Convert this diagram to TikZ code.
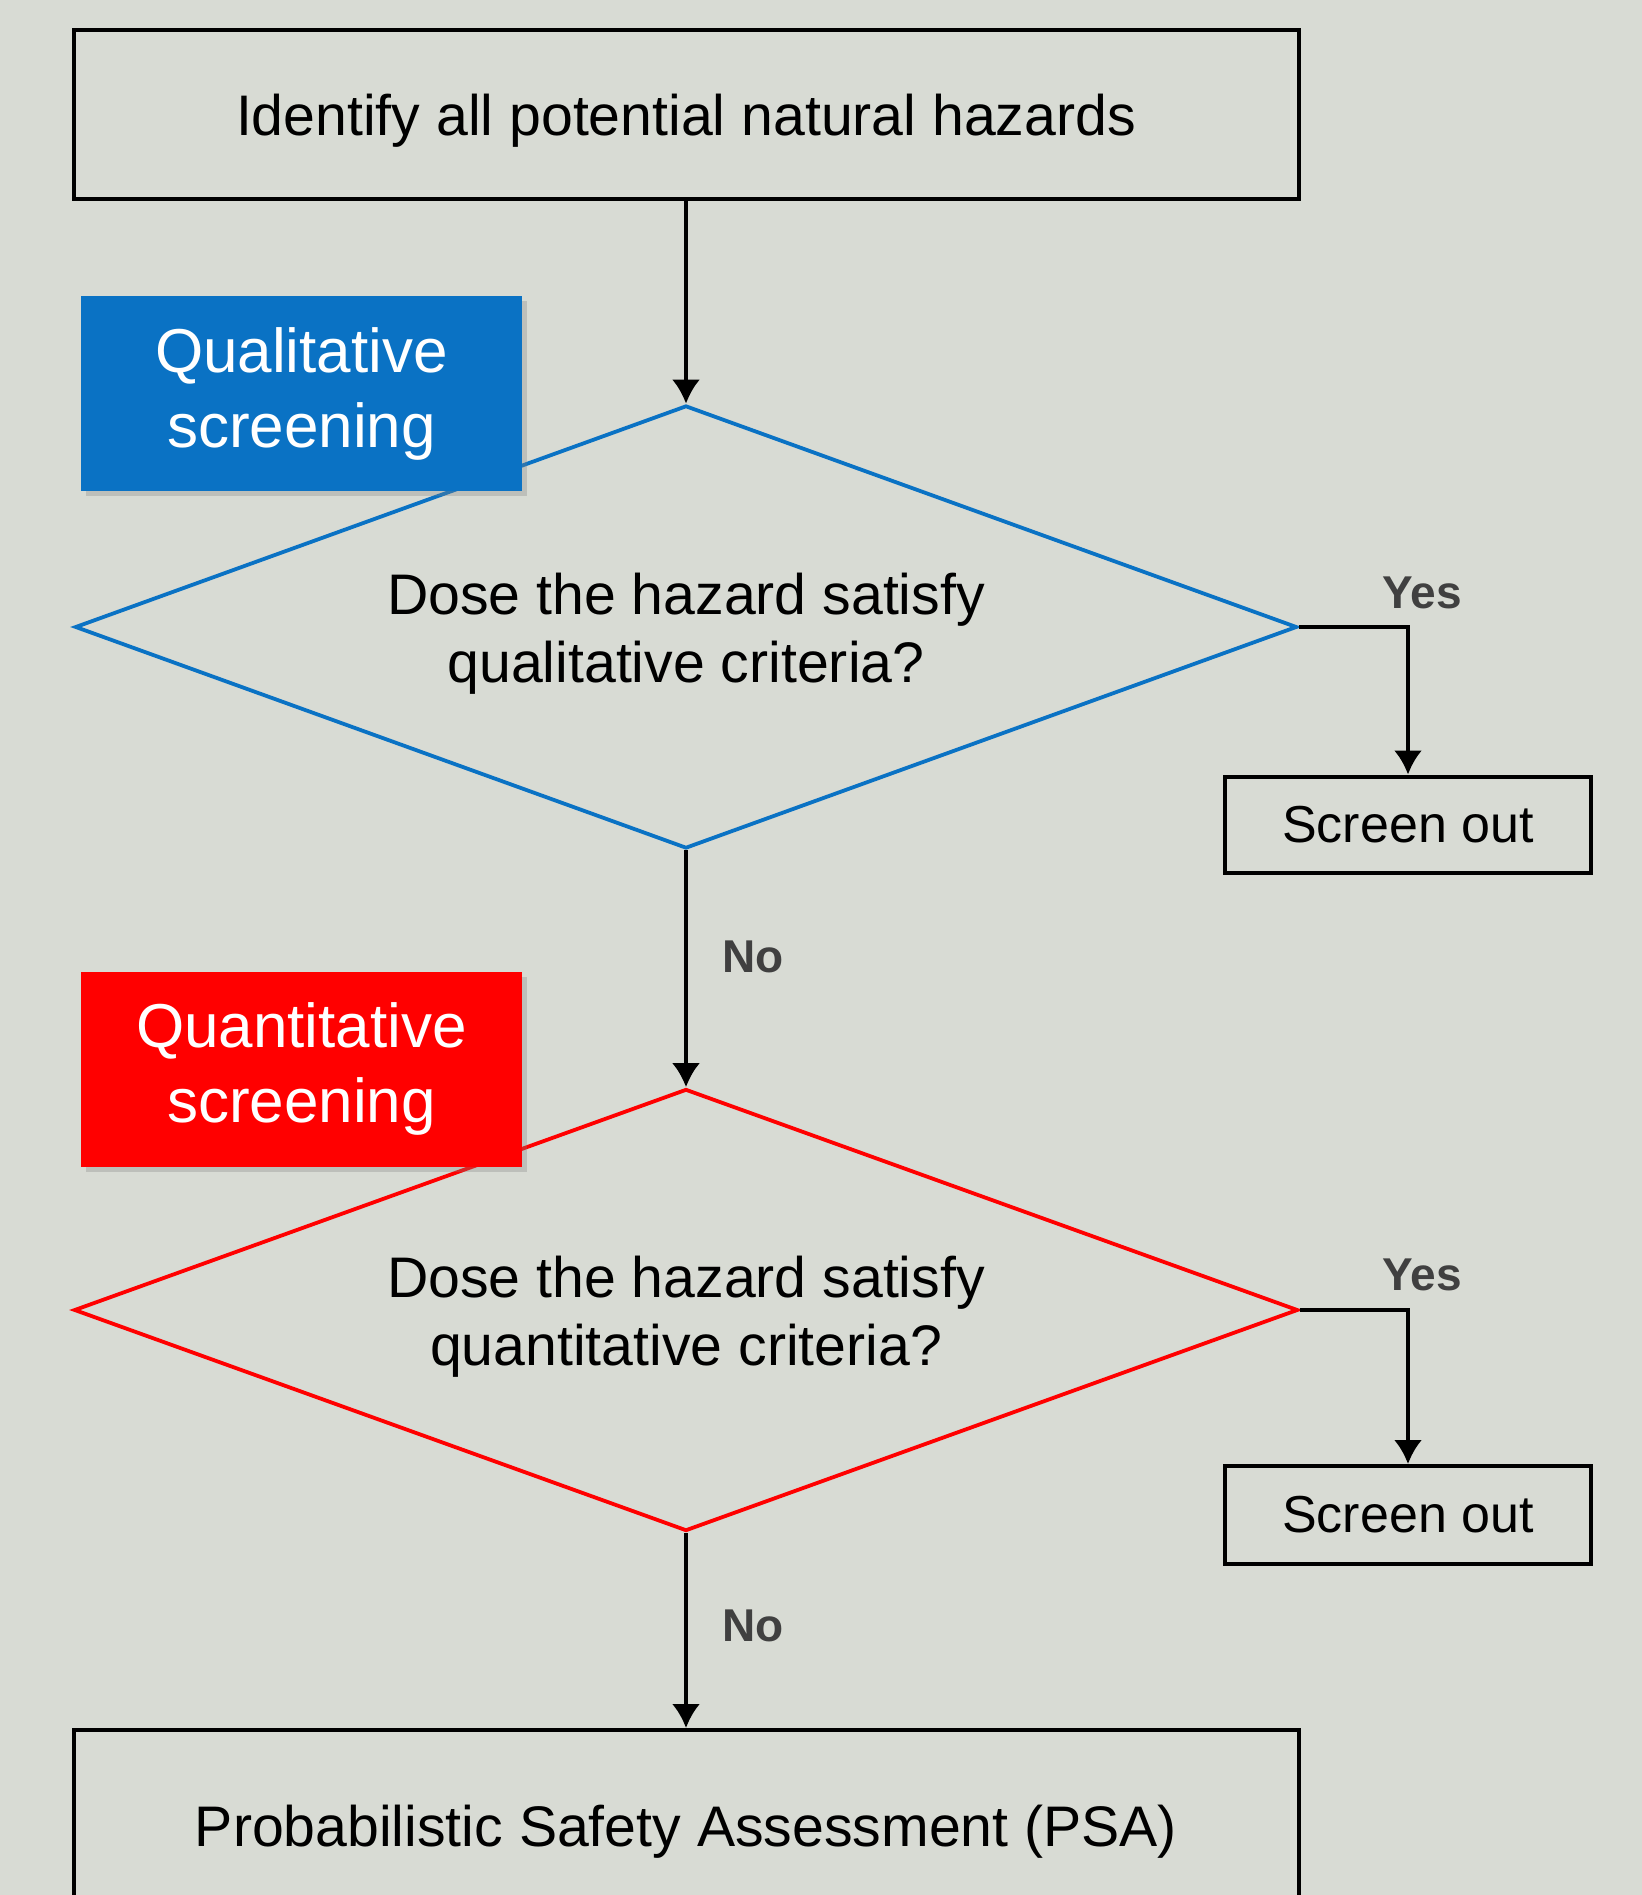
\documentclass[tikz,border=0pt]{standalone}
\usepackage{fontspec}
\setmainfont{Liberation Sans}
\usepackage{tikz}
\usetikzlibrary{shapes.geometric, shadows, arrows.meta}
\definecolor{bgcol}{RGB}{216,219,212}
\definecolor{qualblue}{RGB}{10,114,196}
\definecolor{quanred}{RGB}{255,0,0}
\definecolor{labelgray}{RGB}{64,64,64}
\newcommand{\lowstrut}{\rule{0pt}{27pt}}
\tikzset{>={Latex[length=12pt,width=14pt]}}
\tikzset{
  bigbox/.style = {draw, line width = 2, minimum width = 612.5pt, inner sep = 0, execute at begin node = {\lowstrut}, font = \fontsize{28.6}{34}\selectfont},
  outbox/.style = {draw, line width = 2, minimum width = 183pt, minimum height = 48pt, inner sep = 0, font = \fontsize{26}{31}\selectfont},
  decision/.style = {diamond, aspect = 2.76, draw = #1, line width = 1.9, inner sep = 0, align = center, font = \fontsize{28.6}{34}\selectfont},
  tag/.style = {fill = #1, text = white, minimum width = 220.5pt, minimum height = 97.5pt, align = center, font = \fontsize{31}{37.5}\selectfont, drop shadow = {shadow xshift = 2.5pt, shadow yshift = -2.5pt, opacity = 0.3}},
  answer/.style = {text = labelgray, font = \fontsize{23}{27}\selectfont\bfseries},
  flow/.style = {line width = 1.8, ->}
}

\begin{document}
\begin{tikzpicture}[x = 0.5pt, y = -0.5pt]
\fill[bgcol] (0,0) rectangle (1642,1895);
\useasboundingbox (0,0) rectangle (1642,1895);

\node[decision = qualblue, minimum width = 611pt, minimum height = 221.5pt] (qual) at (686, 627) {\lowstrut Dose the hazard satisfy\\qualitative criteria?};
\node[decision = quanred, minimum width = 612pt, minimum height = 221pt] (quan) at (686, 1310) {\lowstrut Dose the hazard satisfy\\quantitative criteria?};
\node[bigbox, minimum height = 84.5pt] (identify) at (686, 114.5) {Identify all potential natural hazards};
\node[bigbox, minimum height = 95pt] (psa) at (686, 1825) {Probabilistic Safety Assessment (PSA)};
\node[tag = qualblue] (qualtag) at (301.5, 393.5) {Qualitative\\screening};
\node[tag = quanred] (quantag) at (301.5, 1069) {Quantitative\\screening};
\node[outbox] (out1) at (1408, 824.5) {Screen out};
\node[outbox, minimum height = 49pt] (out2) at (1408, 1515) {Screen out};

\draw[flow] (identify.south) -- (qual.north);
\draw[flow] (qual.south) -- (quan.north);
\draw[flow] (quan.south) -- (psa.north);
\draw[flow] (qual.east) -| (out1.north);
\draw[flow] (quan.east) -| (out2.north);

\node[answer] (yes1) at (1422, 593) {Yes};
\node[answer] (yes2) at (1422, 1275) {Yes};
\node[answer] (no1) at (753, 957) {No};
\node[answer] (no2) at (753, 1626) {No};
\end{tikzpicture}
\end{document}
